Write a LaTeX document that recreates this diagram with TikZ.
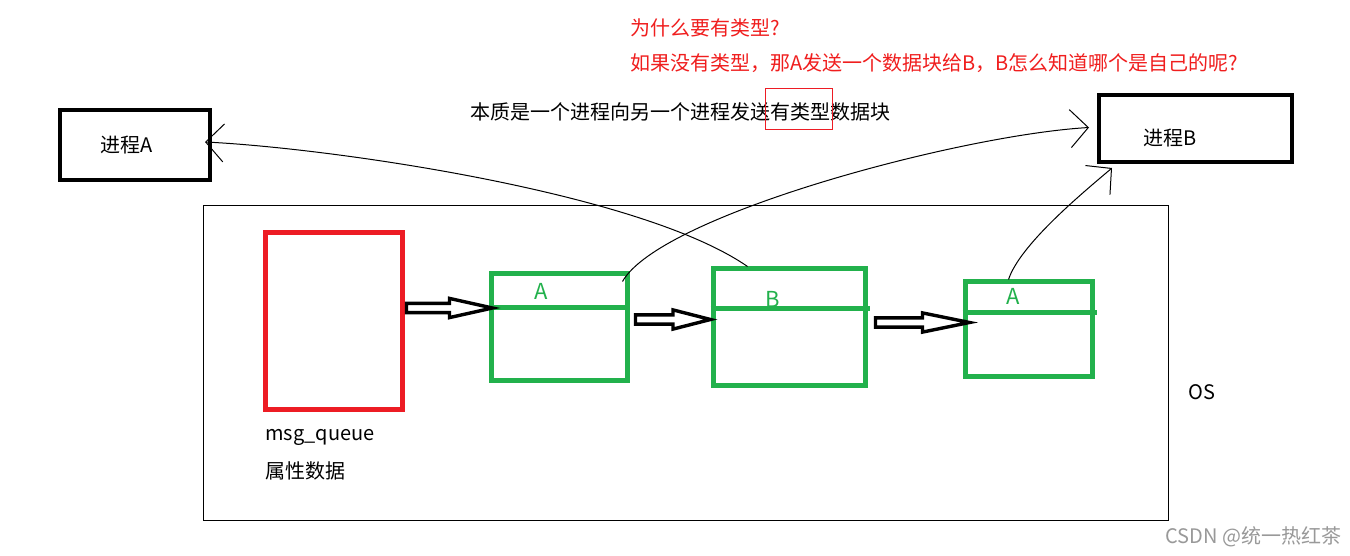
\documentclass[tikz,border=0pt]{standalone}
\usepackage{fontspec}
\setmainfont{Noto Sans CJK SC}
\usetikzlibrary{calc, arrows.meta}

\definecolor{qgreen}{RGB}{34,177,76}
\definecolor{qred}{RGB}{237,28,36}
\definecolor{tred}{RGB}{240,30,30}

% hollow block arrow, head starts half way
\newcommand{\fatarrow}[2]{%
  \draw[fatline] let \p1=#1, \p2=#2 in
    (\x1,\y1+2.3pt) -- ({(\x1+\x2)/2},\y1+2.3pt) -- ({(\x1+\x2)/2},\y1+4.8pt)
    -- (\x2,\y1) -- ({(\x1+\x2)/2},\y1-4.8pt) -- ({(\x1+\x2)/2},\y1-2.3pt)
    -- (\x1,\y1-2.3pt) -- cycle;}

\begin{document}
\begin{tikzpicture}[x=0.5pt, y=-0.5pt,
    txt/.style={inner sep=0pt, font=\fontsize{10pt}{12pt}\selectfont},
    qlab/.style={inner sep=0pt, text=qgreen, font=\fontsize{11pt}{13pt}\selectfont},
    procbox/.style={draw=black, line width=2pt, inner sep=0pt},
    qbox/.style={draw=qgreen, line width=2.5pt, inner sep=0pt},
    fatline/.style={draw=black, line width=1.7pt, line join=miter},
    link/.style={draw=black, line width=0.5pt,
      -{Straight Barb[length=9pt, width=19pt]}}]
  \useasboundingbox (0,0) rectangle (1350,556);
  \fill[white] (0,0) rectangle (1350,556);

  % question on top
  \node[txt, text=tred, anchor=west] (why) at (630,28) {为什么要有类型?};
  \node[txt, text=tred, anchor=west] (ifnot) at (630,63)
    {如果没有类型，那A发送一个数据块给B，B怎么知道哪个是自己的呢?};
  \node[txt, anchor=west] (essence) at (470,112)
    {本质是一个进程向另一个进程发送有类型数据块};
  \node[draw=qred, line width=0.5pt, inner sep=0pt,
    minimum width=33.5pt, minimum height=20.5pt] (typebox) at (798.5,109.5) {};

  % the two processes
  \node[procbox, minimum width=75pt, minimum height=35pt] (procA) at (135,145) {};
  \node[txt, anchor=west] (procAtxt) at (100,145) {进程A};
  \node[procbox, minimum width=96.5pt, minimum height=33.5pt] (procB) at (1195.5,128.5) {};
  \node[txt, anchor=west] (procBtxt) at (1143,138) {进程B};

  % kernel side
  \node[draw=black, line width=0.5pt, inner sep=0pt,
    minimum width=482.5pt, minimum height=157.5pt] (os) at (685.5,362.5) {};
  \node[txt, anchor=west] (ostxt) at (1188,392) {OS};

  \node[draw=qred, line width=2.5pt, inner sep=0pt,
    minimum width=68.5pt, minimum height=88.5pt] (red) at (333.5,320.5) {};
  \node[txt, anchor=west] (mq) at (265,437) {msg\_queue};
  \node[txt, anchor=west] (attr) at (265,471) {属性数据};

  \node[qbox, minimum width=68pt, minimum height=53.5pt] (q1) at (559,326.5) {};
  \draw[qbox] (q1.west |- 0,307) -- (q1.east |- 0,307);
  \node[qlab] (q1lab) at (541,291) {A};

  \node[qbox, minimum width=76pt, minimum height=58.5pt] (q2) at (789,326.5) {};
  \draw[qbox] (q2.west |- 0,308) -- ([xshift=1pt]q2.east |- 0,308);
  \node[qlab] (q2lab) at (773,299) {B};

  \node[qbox, minimum width=63.5pt, minimum height=47.5pt] (q3) at (1028.5,328.5) {};
  \draw[qbox] (q3.west |- 0,312) -- ([xshift=1pt]q3.east |- 0,312);
  \node[qlab] (q3lab) at (1013,296) {A};

  \fatarrow{($(red.east)+(2,-12.5)$)}{($(q1.west)+(4,-19)$)}
  \fatarrow{($(q1.east)+(6,-7)$)}{($(q2.west)+(0,-7)$)}
  \fatarrow{($(q2.east)+(8,-4)$)}{($(q3.west)+(7,-6)$)}

  % who reads which block
  \draw[link] ($(q2.north west)+(37,1)$) .. controls (640,192) and (330,148)
    .. ($(procA.east)+(-7,-3)$);
  \draw[link] ($(q1.north east)+(-7,11)$) .. controls (660,215) and (960,135)
    .. ($(procB.west)+(-8,-1)$);
  \draw[link] ($(q3.north west)+(46,1)$) .. controls (1020,245) and (1080,195)
    .. ($(procB.south west)+(15,4)$);

  \node[txt, text=black!40, anchor=west] (mark) at (1165,537) {CSDN @统一热红茶};
\end{tikzpicture}
\end{document}
